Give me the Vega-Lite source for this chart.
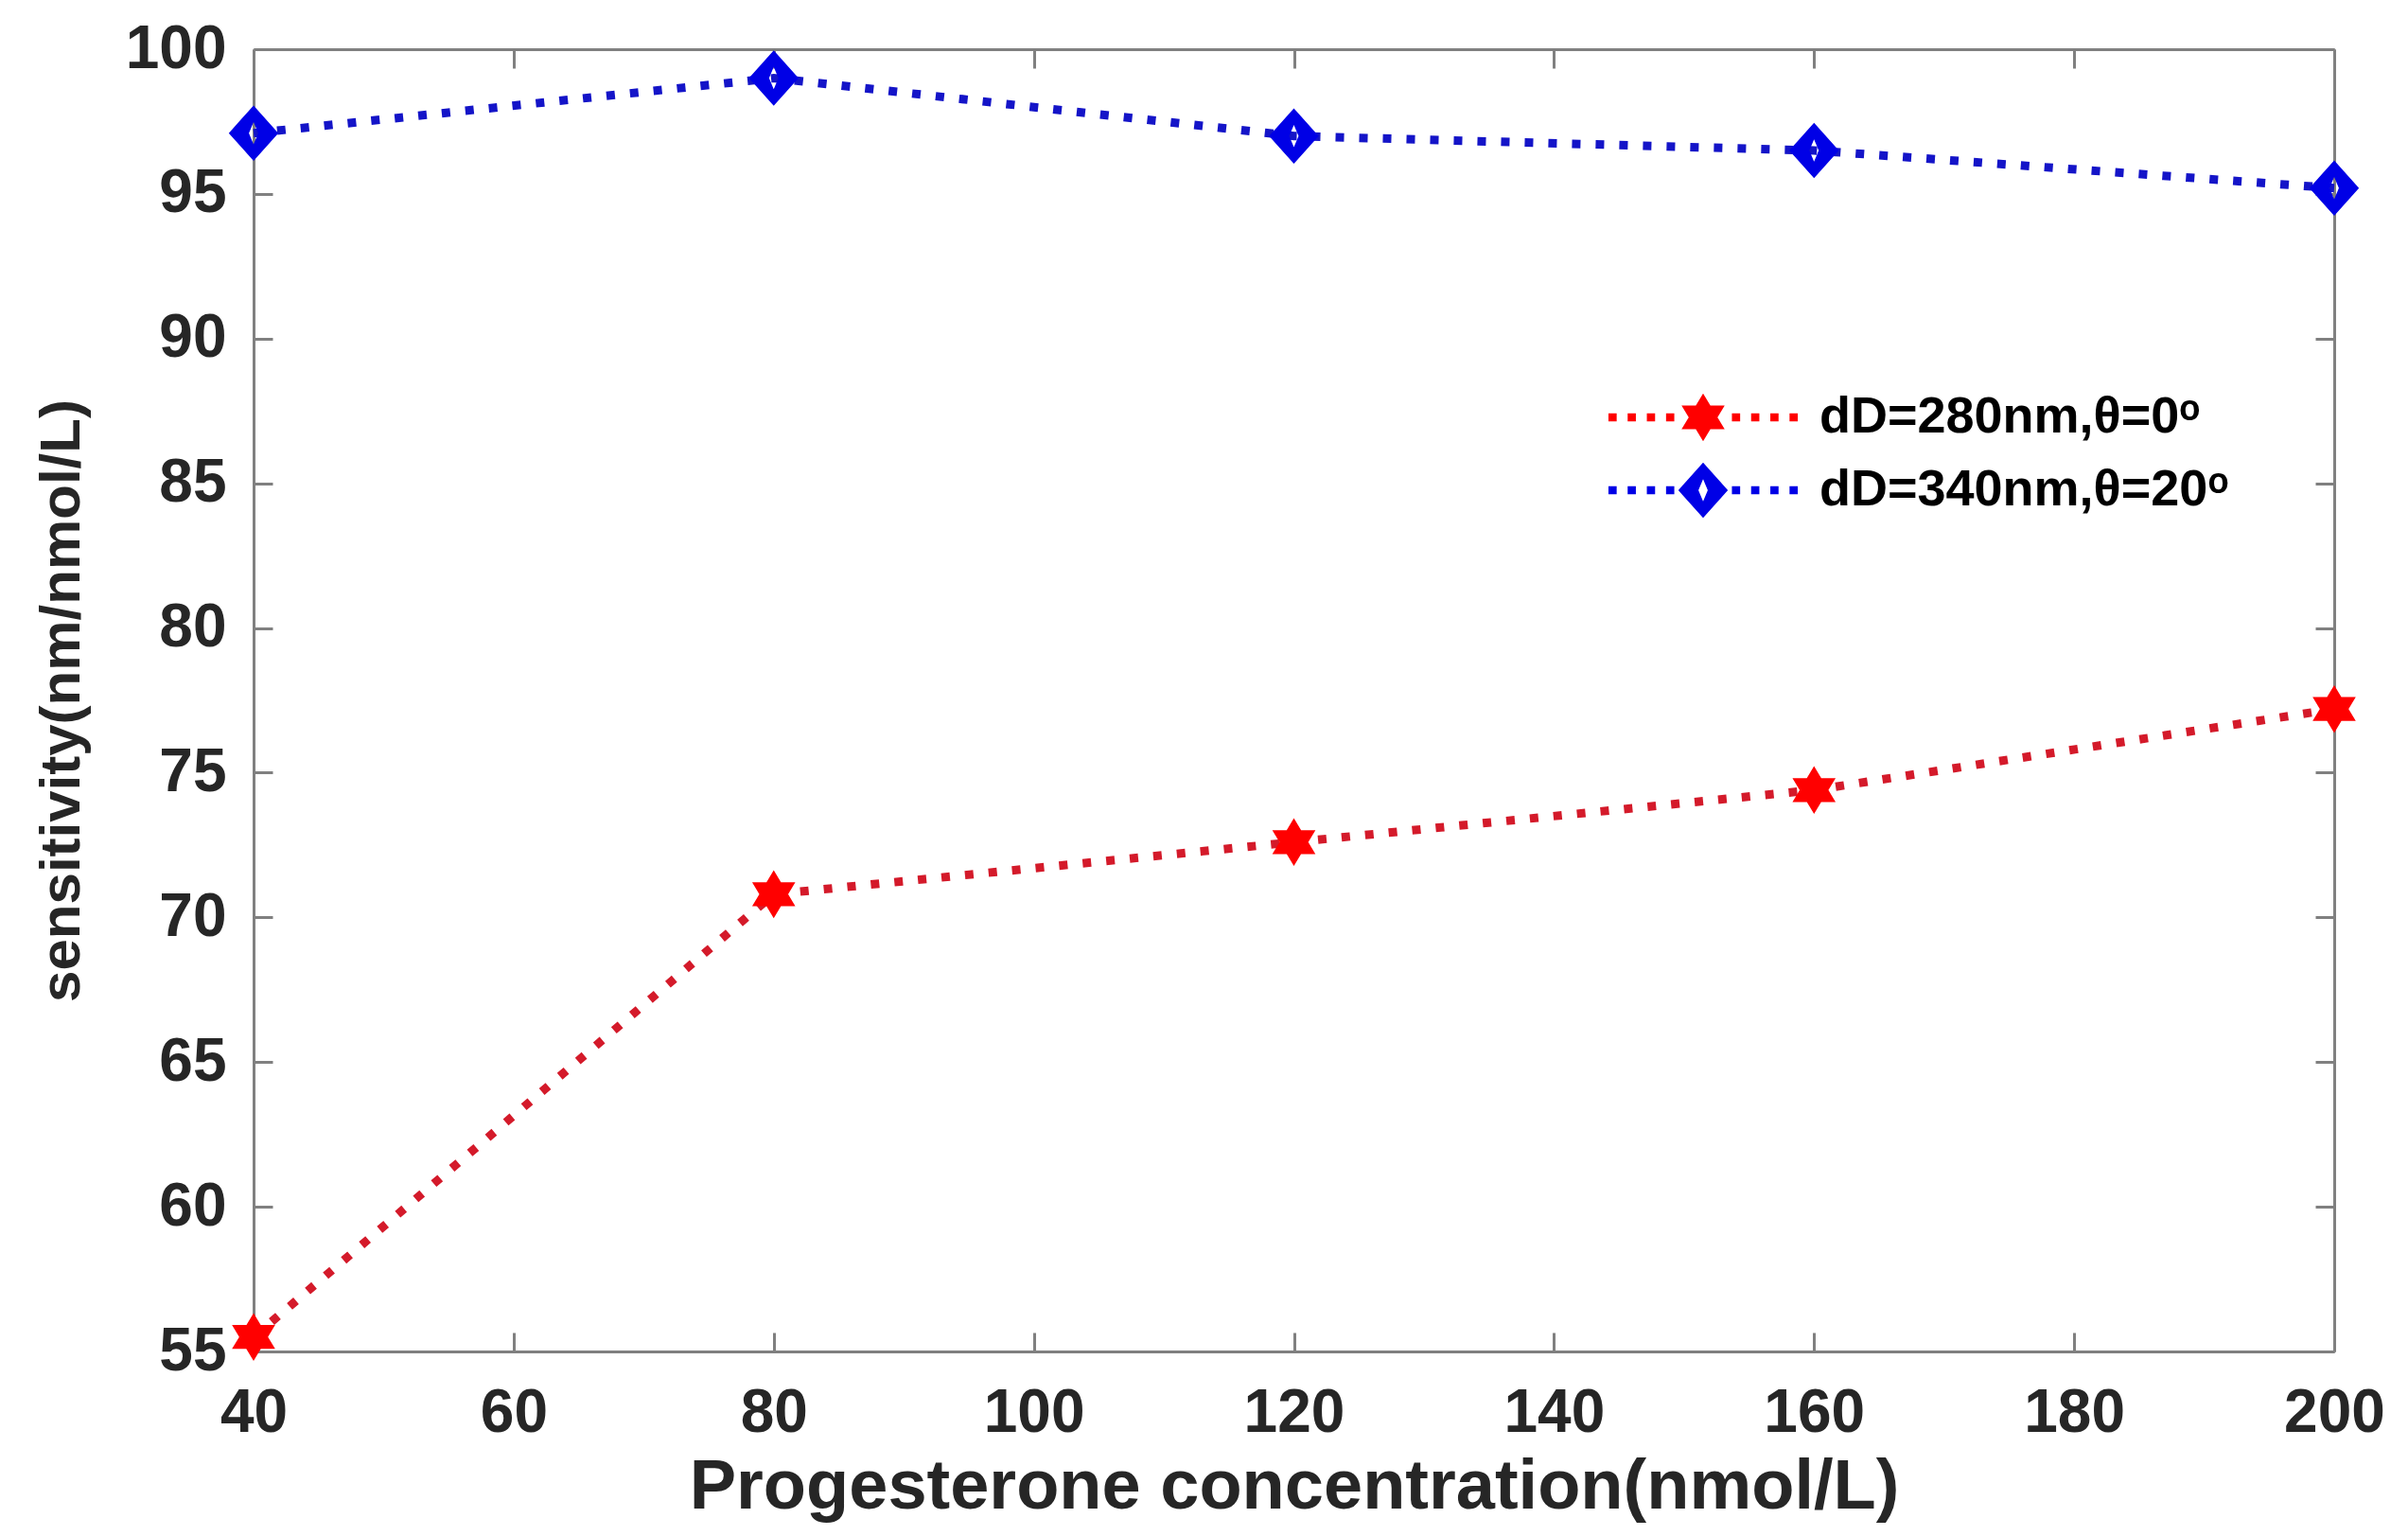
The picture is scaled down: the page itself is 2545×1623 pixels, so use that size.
{
  "$schema": "https://vega.github.io/schema/vega-lite/v6.json",
  "width": 2199,
  "height": 1376,
  "autosize": {"type": "none"},
  "padding": {"left": 268, "top": 52, "right": 78, "bottom": 195},
  "background": "white",
  "data": {
    "values": [
      {"series": "dD=280nm,θ=0ᵒ", "conc": 40, "sens": 55.5},
      {"series": "dD=280nm,θ=0ᵒ", "conc": 80, "sens": 70.8},
      {"series": "dD=280nm,θ=0ᵒ", "conc": 120, "sens": 72.6},
      {"series": "dD=280nm,θ=0ᵒ", "conc": 160, "sens": 74.4},
      {"series": "dD=280nm,θ=0ᵒ", "conc": 200, "sens": 77.2},
      {"series": "dD=340nm,θ=20ᵒ", "conc": 40, "sens": 97.1},
      {"series": "dD=340nm,θ=20ᵒ", "conc": 80, "sens": 99.0},
      {"series": "dD=340nm,θ=20ᵒ", "conc": 120, "sens": 97.0},
      {"series": "dD=340nm,θ=20ᵒ", "conc": 160, "sens": 96.5},
      {"series": "dD=340nm,θ=20ᵒ", "conc": 200, "sens": 95.2}
    ]
  },
  "layer": [
    {
      "transform": [{"filter": "datum.series === 'dD=280nm,θ=0ᵒ'"}],
      "mark": {"type": "line", "strokeWidth": 9, "strokeDash": [9, 16], "strokeCap": "butt", "color": "#d41a2a"},
      "encoding": {
        "x": {
          "field": "conc", "type": "quantitative",
          "scale": {"domain": [40, 200], "nice": false, "zero": false},
          "axis": {
            "orient": "bottom",
            "values": [40, 60, 80, 100, 120, 140, 160, 180, 200],
            "title": "Progesterone concentration(nmol/L)",
            "labelPadding": 53,
            "titlePadding": 10
          }
        },
        "y": {
          "field": "sens", "type": "quantitative",
          "scale": {"domain": [55, 100], "nice": false, "zero": false},
          "axis": {
            "orient": "left",
            "values": [55, 60, 65, 70, 75, 80, 85, 90, 95, 100],
            "title": "sensitivity(nm/nmol/L)",
            "labelPadding": 49,
            "titlePadding": 36
          }
        }
      }
    },
    {
      "transform": [{"filter": "datum.series === 'dD=340nm,θ=20ᵒ'"}],
      "mark": {"type": "line", "strokeWidth": 9, "strokeDash": [9, 16], "strokeCap": "butt", "color": "#1414c8"},
      "encoding": {
        "x": {"field": "conc", "type": "quantitative", "axis": null},
        "y": {"field": "sens", "type": "quantitative", "axis": null}
      }
    },
    {
      "transform": [{"filter": "datum.series === 'dD=280nm,θ=0ᵒ'"}],
      "mark": {
        "type": "point", "filled": true, "opacity": 1, "strokeWidth": 0, "size": 3800, "color": "#ff0000",
        "shape": "M0,-0.82L0.74,0.41L-0.74,0.41ZM0,0.82L-0.74,-0.41L0.74,-0.41Z"
      },
      "encoding": {
        "x": {"field": "conc", "type": "quantitative", "axis": {"orient": "top", "values": [40, 60, 80, 100, 120, 140, 160, 180, 200], "labels": false, "title": null}},
        "y": {"field": "sens", "type": "quantitative", "axis": {"orient": "right", "values": [55, 60, 65, 70, 75, 80, 85, 90, 95, 100], "labels": false, "title": null}}
      }
    },
    {
      "transform": [{"filter": "datum.series === 'dD=340nm,θ=20ᵒ'"}],
      "mark": {
        "type": "point", "filled": true, "opacity": 1, "strokeWidth": 0, "size": 3800, "color": "#0000e6",
        "shape": "M0,-0.95L0.85,0L0,0.95L-0.85,0ZM0,-0.38L-0.16,0L0,0.38L0.16,0Z"
      },
      "encoding": {
        "x": {"field": "conc", "type": "quantitative", "axis": null},
        "y": {"field": "sens", "type": "quantitative", "axis": null}
      }
    },
    {
      "mark": {"type": "point", "filled": true, "opacity": 0, "strokeWidth": 0},
      "encoding": {
        "x": {"field": "conc", "type": "quantitative", "axis": null},
        "y": {"field": "sens", "type": "quantitative", "axis": null},
        "fill": {
          "field": "series", "type": "nominal",
          "scale": {"domain": ["dD=280nm,θ=0ᵒ", "dD=340nm,θ=20ᵒ"], "range": ["#ff0000", "#0000e6"]},
          "legend": {"title": null, "orient": "none", "legendX": 1503, "legendY": 360, "symbolOpacity": 1}
        },
        "shape": {
          "field": "series", "type": "nominal",
          "scale": {
            "domain": ["dD=280nm,θ=0ᵒ", "dD=340nm,θ=20ᵒ"],
            "range": [
              "M0,-0.871L0.786,0.435L-0.786,0.435ZM0,0.871L-0.786,-0.435L0.786,-0.435ZM-3.45,-0.15h0.3v0.3h-0.3ZM-2.75,-0.15h0.3v0.3h-0.3ZM-2.05,-0.15h0.3v0.3h-0.3ZM-1.35,-0.15h0.3v0.3h-0.3ZM1.05,-0.15h0.3v0.3h-0.3ZM1.75,-0.15h0.3v0.3h-0.3ZM2.45,-0.15h0.3v0.3h-0.3ZM3.15,-0.15h0.3v0.3h-0.3Z",
              "M0,-1.009L0.903,0L0,1.009L-0.903,0ZM0,-0.404L-0.17,0L0,0.404L0.17,0ZM-3.45,-0.15h0.3v0.3h-0.3ZM-2.75,-0.15h0.3v0.3h-0.3ZM-2.05,-0.15h0.3v0.3h-0.3ZM-1.35,-0.15h0.3v0.3h-0.3ZM1.05,-0.15h0.3v0.3h-0.3ZM1.75,-0.15h0.3v0.3h-0.3ZM2.45,-0.15h0.3v0.3h-0.3ZM3.15,-0.15h0.3v0.3h-0.3Z"
            ]
          },
          "legend": {"title": null, "orient": "none", "legendX": 1503, "legendY": 360, "symbolOpacity": 1}
        }
      }
    }
  ],
  "config": {
    "view": {"stroke": null},
    "font": "Liberation Sans",
    "axis": {
      "grid": false,
      "domainColor": "#808080",
      "domainWidth": 3,
      "tickColor": "#808080",
      "tickWidth": 3,
      "tickSize": -20,
      "labelFont": "Liberation Sans",
      "labelFontWeight": "bold",
      "labelFontSize": 64,
      "labelColor": "#262626",
      "labelFlush": false,
      "labelOverlap": false,
      "titleFont": "Liberation Sans",
      "titleFontWeight": "bold",
      "titleFontSize": 74,
      "titleColor": "#262626"
    },
    "axisY": {"titleFontSize": 60},
    "legend": {
      "padding": 0,
      "symbolSize": 3364,
      "labelOffset": 94,
      "rowPadding": 20,
      "labelLimit": 0,
      "labelFont": "Liberation Sans",
      "labelFontWeight": "bold",
      "labelFontSize": 54,
      "labelColor": "#000000",
      "symbolStrokeWidth": 0
    }
  }
}
